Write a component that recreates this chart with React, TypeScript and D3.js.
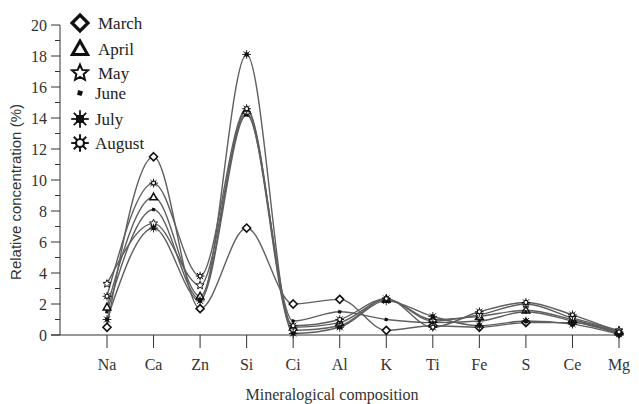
import React from "react";
import * as d3 from "d3";

const categories = ["Na", "Ca", "Zn", "Si", "Ci", "Al", "K", "Ti", "Fe", "S", "Ce", "Mg"];
const months = ["March", "April", "May", "June", "July", "August"];
const march = [0.5, 11.5, 1.7, 6.9, 2.0, 2.3, 0.3, 0.6, 0.5, 0.8, 0.8, 0.1];
const april = [1.8, 8.9, 2.5, 14.5, 0.5, 0.8, 2.3, 1.0, 1.2, 1.6, 1.0, 0.2];
const may = [3.3, 7.2, 3.2, 14.3, 0.3, 0.6, 2.3, 0.9, 1.3, 2.0, 1.1, 0.3];
const june = [1.5, 8.1, 2.3, 14.2, 0.9, 1.5, 1.0, 0.8, 0.9, 1.5, 0.9, 0.1];
const july = [1.0, 6.9, 2.2, 18.1, 0.1, 0.5, 2.2, 1.2, 0.6, 0.9, 0.7, 0.05];
const august = [2.5, 9.8, 3.8, 14.6, 0.6, 1.0, 2.35, 0.5, 1.5, 2.1, 1.3, 0.2];
const seriesValues = [march, april, may, june, july, august];
const yMajorTicks = [0, 2, 4, 6, 8, 10, 12, 14, 16, 18, 20];
const yMinorTicks = [1, 3, 5, 7, 9, 11, 13, 15, 17, 19];

const W = 639;
const H = 404;
const x = d3.scalePoint<string>().domain(categories).range([107, 619]);
const y = d3.scaleLinear().domain([0, 20]).range([335, 25]);

function Marker({ kind, cx, cy, s }: { kind: number; cx: number; cy: number; s: number }) {
  const c = "#111";
  if (kind === 0) {
    const r = s;
    return (
      <polygon
        points={`${cx},${cy - r} ${cx + r},${cy} ${cx},${cy + r} ${cx - r},${cy}`}
        fill="white"
        stroke={c}
        strokeWidth={s * 0.4}
      />
    );
  }
  if (kind === 1) {
    const r = s;
    return (
      <polygon
        points={`${cx},${cy - r} ${cx + r * 0.95},${cy + r * 0.7} ${cx - r * 0.95},${cy + r * 0.7}`}
        fill="white"
        stroke={c}
        strokeWidth={s * 0.38}
        strokeLinejoin="miter"
      />
    );
  }
  if (kind === 2) {
    const pts: string[] = [];
    for (let i = 0; i < 10; i++) {
      const a = -Math.PI / 2 + (i * Math.PI) / 5;
      const r = i % 2 === 0 ? s * 1.05 : s * 0.48;
      pts.push(`${cx + r * Math.cos(a)},${cy + r * Math.sin(a)}`);
    }
    return <polygon points={pts.join(" ")} fill="white" stroke={c} strokeWidth={s * 0.25} />;
  }
  if (kind === 3) {
    const r = s * 0.5;
    return (
      <polygon
        points={`${cx - r * 0.6},${cy - r} ${cx + r},${cy - r * 0.5} ${cx + r * 0.5},${cy + r} ${cx - r},${cy + r * 0.6}`}
        fill={c}
      />
    );
  }
  if (kind === 4) {
    const lines = [];
    for (let i = 0; i < 4; i++) {
      const a = (i * Math.PI) / 4;
      lines.push(
        <line
          key={i}
          x1={cx - s * 1.1 * Math.cos(a)}
          y1={cy - s * 1.1 * Math.sin(a)}
          x2={cx + s * 1.1 * Math.cos(a)}
          y2={cy + s * 1.1 * Math.sin(a)}
          stroke={c}
          strokeWidth={s * 0.22}
        />
      );
    }
    return (
      <g>
        {lines}
        <rect x={cx - s * 0.5} y={cy - s * 0.5} width={s} height={s} fill={c} />
      </g>
    );
  }
  const lines = [];
  for (let i = 0; i < 4; i++) {
    const a = (i * Math.PI) / 4;
    lines.push(
      <line
        key={i}
        x1={cx - s * 1.1 * Math.cos(a)}
        y1={cy - s * 1.1 * Math.sin(a)}
        x2={cx + s * 1.1 * Math.cos(a)}
        y2={cy + s * 1.1 * Math.sin(a)}
        stroke={c}
        strokeWidth={s * 0.24}
      />
    );
  }
  return (
    <g>
      {lines}
      <circle cx={cx} cy={cy} r={s * 0.5} fill="white" stroke={c} strokeWidth={s * 0.28} />
    </g>
  );
}

export default function App() {
  const line = d3
    .line<number>()
    .x((_, i) => x(categories[i]) as number)
    .y((d) => y(d))
    .curve(d3.curveMonotoneX);

  const serif = "'Liberation Serif', 'DejaVu Serif', serif";
  const sans = "'Liberation Sans', Arial, sans-serif";
  const axisColor = "#333";

  return (
    <svg
      width={W}
      height={H}
      style={{ position: "absolute", left: 0, top: 0, background: "white" }}
    >
      {/* Y axis */}
      <line x1={60} y1={y(20)} x2={60} y2={y(0)} stroke={axisColor} strokeWidth={1} />
      {yMajorTicks.map((t) => (
        <g key={`M${t}`}>
          <line x1={51} y1={y(t)} x2={60} y2={y(t)} stroke={axisColor} strokeWidth={1} />
          <text
            x={47}
            y={y(t)}
            textAnchor="end"
            dominantBaseline="central"
            fontFamily={serif}
            fontSize={16}
            fill="#333"
          >
            {t}
          </text>
        </g>
      ))}
      {yMinorTicks.map((t) => (
        <line key={`m${t}`} x1={55} y1={y(t)} x2={60} y2={y(t)} stroke={axisColor} strokeWidth={1} />
      ))}
      <text
        transform={`translate(15,${(y(0) + y(20)) / 2 + 12}) rotate(-90)`}
        textAnchor="middle"
        dominantBaseline="central"
        fontFamily={sans}
        fontSize={15}
        fill="#333"
      >
        Relative concentration (%)
      </text>

      {/* X axis */}
      <line x1={51} y1={y(0)} x2={620} y2={y(0)} stroke={axisColor} strokeWidth={1} />
      {categories.map((c) => (
        <g key={c}>
          <line x1={x(c)} y1={y(0)} x2={x(c)} y2={y(0) + 13} stroke={axisColor} strokeWidth={1} />
          <text
            x={x(c)}
            y={364}
            textAnchor="middle"
            dominantBaseline="central"
            fontFamily={serif}
            fontSize={16}
            fill="#333"
          >
            {c}
          </text>
        </g>
      ))}
      <text
        x={332}
        y={394}
        textAnchor="middle"
        dominantBaseline="central"
        fontFamily={serif}
        fontSize={16}
        fill="#333"
      >
        Mineralogical composition
      </text>

      {/* Lines */}
      {seriesValues.map((vals, si) => (
        <path key={`l${si}`} d={line(vals) || ""} fill="none" stroke="#5f5f5f" strokeWidth={1.4} />
      ))}
      {seriesValues.map((vals, si) => (
        <g key={`p${si}`}>
          {vals.map((v, i) => (
            <Marker key={i} kind={si} cx={x(categories[i]) as number} cy={y(v)} s={4} />
          ))}
        </g>
      ))}

      {/* Legend */}
      {months.map((m, i) => {
        const ly = [23, 49, 73, 93, 119, 143][i];
        return (
          <g key={m}>
            <Marker kind={i} cx={80} cy={ly} s={i === 3 ? 6 : 8} />
            <text
              x={i >= 3 ? 95 : 98}
              y={ly}
              dominantBaseline="central"
              fontFamily={serif}
              fontSize={17}
              fill="#222"
            >
              {m}
            </text>
          </g>
        );
      })}
    </svg>
  );
}
